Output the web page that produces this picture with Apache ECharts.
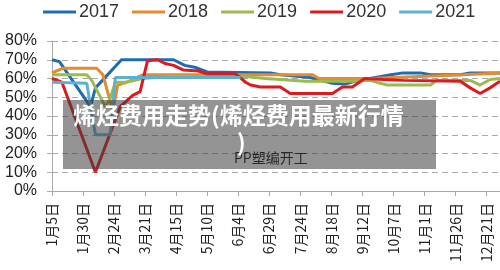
<!DOCTYPE html>
<html>
<head>
<meta charset="utf-8">
<script src="https://cdn.jsdelivr.net/npm/echarts@6/dist/echarts.min.js"></script>
<style>
  html, body { margin: 0; padding: 0; background: #fff; }
  #chart { width: 500px; height: 270px; }
</style>
</head>
<body>
<div id="chart"></div>
<script>
// x 轴刻度（从1月5日起每25天一个）
var tickLabels = ["1月5日", "1月30日", "2月24日", "3月21日", "4月15日", "5月10日", "6月4日",
  "6月29日", "7月24日", "8月18日", "9月12日", "10月7日", "11月1日", "11月26日", "12月21日"];

var years = ["2017", "2018", "2019", "2020", "2021"];

// 天数(距1月5日), 开工率%
var data2017 = [[0, 70], [6, 69], [31, 45], [35, 55], [56, 70], [98, 70], [107, 67], [115, 66],
  [125, 63.5], [176, 63], [184, 62], [208, 60.5], [226, 57.5], [236, 57], [247, 59], [256, 60],
  [273, 62], [283, 63], [297, 63], [305, 62], [329, 62], [337, 63], [361, 63]];
var data2018 = [[0, 63], [9, 65.5], [36, 65.5], [41, 62], [49, 43], [53, 56.5], [60, 58], [73, 62],
  [210, 62], [215, 60], [256, 60], [331, 62], [361, 63]];
var data2019 = [[0, 62], [28, 62], [32, 59], [43, 45], [47, 49.5], [51, 58], [60, 58], [73, 60],
  [93, 61], [156, 61], [172, 60], [204, 58.5], [244, 58.5], [256, 59], [270, 56.5], [305, 56.5],
  [310, 59], [337, 59], [345, 56.5], [353, 59.5], [361, 60]];
var data2020 = [[0, 60], [8, 58], [35, 10], [55, 45], [65, 51], [71, 53], [77, 69.5], [85, 70],
  [91, 68], [98, 67], [106, 64.5], [118, 64], [125, 62.5], [148, 62.5], [156, 58], [160, 56.5],
  [168, 55.5], [184, 55.5], [192, 52], [226, 52], [234, 55.5], [242, 55.5], [252, 60], [267, 59.5],
  [283, 59], [329, 58.5], [337, 55], [345, 52], [353, 55], [361, 58.5]];
var data2021 = [[0, 58], [28, 57.5], [35, 30], [47, 30], [51, 60.5], [152, 60.5]];

var colors = ["#1f6cb5", "#e58a2e", "#9bbb4f", "#dc1a1f", "#5bb1cf"];
var allData = [data2017, data2018, data2019, data2020, data2021];

var chart = echarts.init(document.getElementById("chart"));

var series = [];
for (var i = 0; i < years.length; i++) {
  series.push({
    name: years[i],
    type: "line",
    data: allData[i],
    showSymbol: false,
    lineStyle: { width: 3, color: colors[i] },
    itemStyle: { color: colors[i] }
  });
}

chart.setOption({
  animation: false,
  textStyle: { fontFamily: "Liberation Sans" },
  title: {
    text: "PP塑编开工",
    left: 229,
    top: 146,
    textStyle: { fontSize: 14, fontWeight: "normal", color: "#111", fontFamily: "Noto Sans CJK SC" }
  },
  legend: {
    top: -2,
    left: 38,
    icon: "rect",
    itemWidth: 33,
    itemHeight: 3,
    itemGap: 13,
    textStyle: { fontSize: 18, color: "#333", padding: [0, 0, 0, -2] }
  },
  grid: { left: 52, right: 0, top: 41, bottom: 79 },
  xAxis: {
    type: "value",
    min: 0,
    max: 361,
    interval: 25,
    axisLine: { lineStyle: { color: "#aaa" } },
    axisTick: { show: true, length: 5, lineStyle: { color: "#aaa" } },
    splitLine: { show: false },
    axisLabel: {
      rotate: 90,
      fontSize: 14,
      color: "#222",
      margin: 12,
      showMaxLabel: false,
      fontFamily: "Noto Sans CJK SC",
      formatter: function (v) {
        if (v % 25 !== 0) return "";
        return tickLabels[v / 25] || "";
      }
    }
  },
  yAxis: {
    type: "value",
    min: 0,
    max: 80,
    interval: 10,
    axisLine: { show: true, lineStyle: { color: "#aaa" } },
    axisTick: { show: true, length: 5, lineStyle: { color: "#aaa" } },
    axisLabel: { fontSize: 16, color: "#222", margin: 15, formatter: "{value}%" },
    splitLine: { lineStyle: { color: "#aaa", type: [6, 4] } }
  },
  // 水印遮罩
  graphic: [
    {
      type: "rect",
      z: 100,
      shape: { x: 63, y: 100, width: 373, height: 69 },
      style: { fill: "rgba(60,60,60,0.55)" }
    },
    {
      type: "text",
      z: 101,
      x: 73,
      y: 104,
      style: {
        text: "烯烃费用走势(烯烃费用最新行情",
        fill: "#fff",
        font: 'bold 23px "Noto Sans CJK SC"'
      }
    },
    {
      type: "text",
      z: 101,
      x: 237,
      y: 131,
      style: {
        text: ")",
        fill: "#fff",
        font: 'bold 23px "Noto Sans CJK SC"'
      }
    }
  ],
  series: series
});
</script>
</body>
</html>
